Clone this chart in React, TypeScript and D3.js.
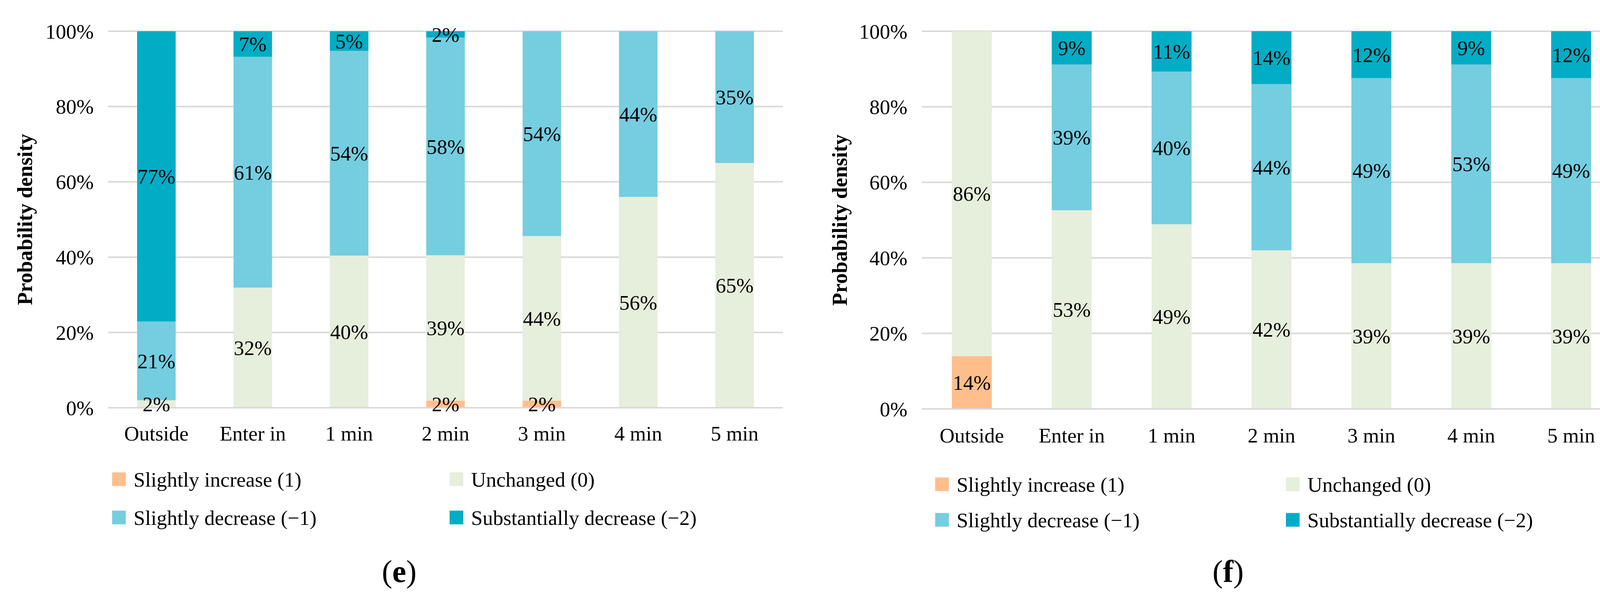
import * as d3 from 'd3';

const categories = ['Outside', 'Enter in', '1 min', '2 min', '3 min', '4 min', '5 min'];
const seriesNames = [
  'Slightly increase (1)',
  'Unchanged (0)',
  'Slightly decrease (\u22121)',
  'Substantially decrease (\u22122)',
];
const seriesColors = ['#FFBE8C', '#E6EEDC', '#75CDE0', '#00ADC5'];
const yTicks = [0, 20, 40, 60, 80, 100];

// panel (e)
const eIncrease = [0, 0, 0, 1.9, 1.9, 0, 0];
const eUnchanged = [2.0, 31.9, 40.4, 38.6, 43.7, 56.0, 65.0];
const eSlightDecrease = [20.9, 61.3, 54.4, 57.8, 54.4, 44.0, 35.0];
const eSubstantialDecrease = [77.1, 6.8, 5.2, 1.7, 0, 0, 0];

// panel (f)
const fIncrease = [14.0, 0, 0, 0, 0, 0, 0];
const fUnchanged = [86.0, 52.6, 48.9, 42.0, 38.6, 38.6, 38.6];
const fSlightDecrease = [0, 38.6, 40.4, 44.0, 49.0, 52.6, 49.0];
const fSubstantialDecrease = [0, 8.8, 10.7, 14.0, 12.4, 8.8, 12.4];

const FONT = '"Liberation Serif", "Times New Roman", serif';

type Layout = {
  left: number;
  right: number;
  top: number;
  bottom: number;
  titleX: number;
  labelY: number;
  legendX: [number, number];
  legendY: [number, number];
  caption: string;
  captionX: number;
};

function Panel({ series, layout }: { series: number[][]; layout: Layout }) {
  const rows = categories.map((c, i) => {
    const r: Record<string, number | string> = { cat: c };
    seriesNames.forEach((s, k) => (r[s] = series[k][i]));
    return r;
  });
  const stacked = d3.stack<any>().keys(seriesNames)(rows);

  const x = d3
    .scaleBand()
    .domain(categories)
    .range([layout.left, layout.right])
    .paddingInner(0.6)
    .paddingOuter(0.3);
  const y = d3.scaleLinear().domain([0, 100]).range([layout.bottom, layout.top]);

  return (
    <g fontFamily={FONT} fill="#000">
      {yTicks.map((t) => (
        <g key={t}>
          <line x1={layout.left} x2={layout.right} y1={y(t)} y2={y(t)} stroke="#D9D9D9" strokeWidth={4} />
          <text x={layout.left - 37} y={y(t)} dy="0.35em" textAnchor="end" fontSize={53}>
            {t}%
          </text>
        </g>
      ))}
      {stacked.map((layer, k) => (
        <g key={layer.key} fill={seriesColors[k]}>
          {layer.map((d, i) =>
            d[1] - d[0] > 0 ? (
              <rect
                key={i}
                x={x(categories[i])!}
                width={x.bandwidth()}
                y={y(d[1])}
                height={y(d[0]) - y(d[1])}
              />
            ) : null
          )}
        </g>
      ))}
      <line
        x1={layout.left}
        x2={layout.right}
        y1={y(0)}
        y2={y(0)}
        stroke="#D9D9D9"
        strokeWidth={4}
      />
      {stacked.map((layer) =>
        layer.map((d, i) =>
          d[1] - d[0] > 0 ? (
            <text
              key={layer.key + i}
              x={x(categories[i])! + x.bandwidth() / 2}
              y={y((d[0] + d[1]) / 2)}
              dy="0.35em"
              textAnchor="middle"
              fontSize={53}
            >
              {Math.round(d[1] - d[0])}%
            </text>
          ) : null
        )
      )}
      {categories.map((c) => (
        <text key={c} x={x(c)! + x.bandwidth() / 2} y={layout.labelY} textAnchor="middle" fontSize={53}>
          {c}
        </text>
      ))}
      <text
        transform={`translate(${layout.titleX},${(layout.top + layout.bottom) / 2}) rotate(-90)`}
        textAnchor="middle"
        fontSize={54}
        fontWeight="bold"
      >
        Probability density
      </text>
      {seriesNames.map((s, k) => {
        const lx = layout.legendX[k % 2];
        const ly = layout.legendY[Math.floor(k / 2)];
        return (
          <g key={s}>
            <rect x={lx} y={ly - 17.5} width={35} height={35} fill={seriesColors[k]} />
            <text x={lx + 55} y={ly} dy="0.35em" fontSize={53}>
              {s}
            </text>
          </g>
        );
      })}
      <text x={layout.captionX} y={1490} textAnchor="middle" fontSize={80}>
        (<tspan fontWeight="bold">{layout.caption}</tspan>)
      </text>
    </g>
  );
}

const layoutE: Layout = {
  left: 277,
  right: 2004,
  top: 80,
  bottom: 1044,
  titleX: 82,
  labelY: 1128,
  legendX: [287, 1151],
  legendY: [1227, 1325],
  caption: 'e',
  captionX: 1022,
};

const layoutF: Layout = {
  left: 2360,
  right: 4150,
  top: 80,
  bottom: 1047,
  titleX: 2168,
  labelY: 1133,
  legendX: [2394, 3292],
  legendY: [1240, 1331],
  caption: 'f',
  captionX: 3144,
};

export default function App() {
  return (
    <svg
      width={4172}
      height={1526}
      style={{ position: 'absolute', left: 0, top: 0, display: 'block', background: '#fff' }}
    >
      <rect width={4172} height={1526} fill="#fff" />
      <Panel series={[eIncrease, eUnchanged, eSlightDecrease, eSubstantialDecrease]} layout={layoutE} />
      <Panel series={[fIncrease, fUnchanged, fSlightDecrease, fSubstantialDecrease]} layout={layoutF} />
    </svg>
  );
}
